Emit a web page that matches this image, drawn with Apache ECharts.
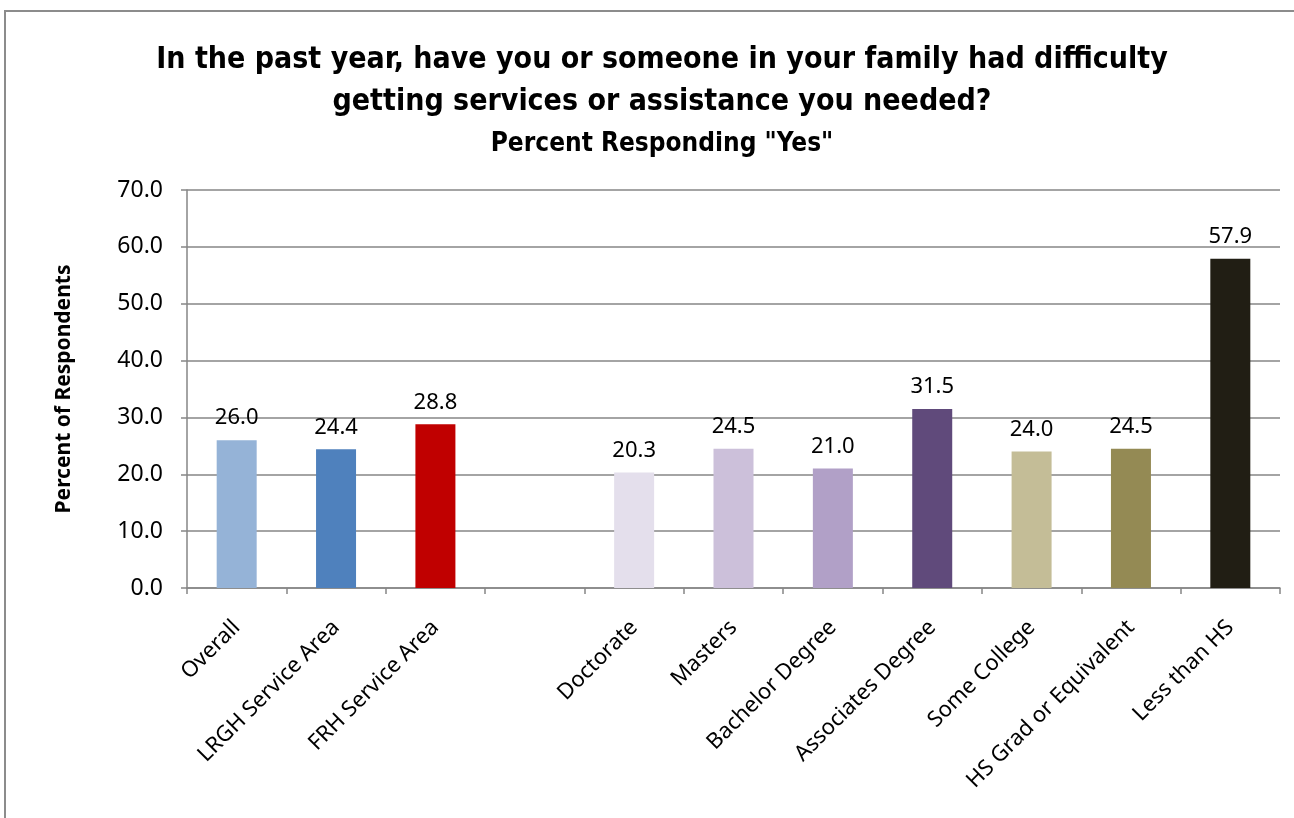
<!DOCTYPE html>
<html>
<head>
<meta charset="utf-8">
<script src="https://cdn.jsdelivr.net/npm/echarts@6.0.0/dist/echarts.min.js"></script>
<style>
  html, body { margin: 0; padding: 0; background: #fff; overflow: hidden; }
  #frame {
    position: absolute; left: 4px; top: 10px;
    width: 1400px; height: 900px;
    border-left: 2px solid #8c8c8c; border-top: 2px solid #8c8c8c;
  }
  /* 30px wider than the window so the centred title sits a little right, like the original */
  #chart { position: absolute; left: 0; top: 0; width: 1324px; height: 818px; }
</style>
</head>
<body>
<div id="frame"></div>
<div id="chart"></div>
<script>
// categories (the blank one is the gap between the service areas and education levels)
const categories = [
  'Overall', 'LRGH Service Area', 'FRH Service Area', '',
  'Doctorate', 'Masters', 'Bachelor Degree', 'Associates Degree',
  'Some College', 'HS Grad or Equivalent', 'Less than HS'
];
const percentYes = [26.0, 24.4, 28.8, null, 20.3, 24.5, 21.0, 31.5, 24.0, 24.5, 57.9];
const barColors = [
  '#95B3D7', '#4F81BD', '#C00000', '#ffffff',
  '#E4DFEC', '#CCC0DA', '#B1A0C7', '#604A7B',
  '#C4BD97', '#948A54', '#211E14'
];
const yTicks = { min: 0, max: 70, interval: 10 };

const labelFont = '"Noto Sans", "Open Sans", sans-serif';
const titleFont = '"Liberation Sans Narrow", "DejaVu Sans Condensed", sans-serif';

const chart = echarts.init(document.getElementById('chart'));
chart.setOption({
  animation: false,
  title: {
    text: 'In the past year, have you or someone in your family had difficulty\ngetting services or assistance you needed?',
    subtext: 'Percent Responding "Yes"',
    left: 'center',
    top: 34,
    itemGap: 8,
    textStyle: {
      fontFamily: titleFont,
      fontWeight: 'bold',
      fontSize: 30,
      lineHeight: 42,
      color: '#000'
    },
    subtextStyle: {
      fontFamily: titleFont,
      fontWeight: 'bold',
      fontSize: 26,
      color: '#000'
    }
  },
  grid: { left: 187, right: 44, top: 190, bottom: 230 },
  xAxis: {
    type: 'category',
    data: categories,
    axisLine: { lineStyle: { color: '#868686', width: 1.5 } },
    axisTick: { show: true, length: 6, lineStyle: { color: '#868686', width: 1.5 } },
    axisLabel: {
      rotate: 45,
      interval: 0,
      margin: 36,
      fontFamily: labelFont,
      fontSize: 22,
      color: '#000'
    }
  },
  yAxis: {
    type: 'value',
    min: yTicks.min,
    max: yTicks.max,
    interval: yTicks.interval,
    name: 'Percent of Respondents',
    nameLocation: 'middle',
    nameGap: 112,
    nameTextStyle: {
      fontFamily: labelFont,
      fontWeight: 'bold',
      fontSize: 21,
      color: '#000'
    },
    axisLine: { show: true, lineStyle: { color: '#868686', width: 1.5 } },
    axisTick: { show: true, length: 6, lineStyle: { color: '#868686', width: 1.5 } },
    splitLine: { lineStyle: { color: '#868686', width: 1.5 } },
    axisLabel: {
      formatter: (v) => v.toFixed(1),
      margin: 24,
      fontFamily: labelFont,
      fontSize: 23,
      color: '#000'
    }
  },
  series: [{
    type: 'bar',
    barWidth: 40,
    data: percentYes.map((v, i) => ({ value: v, itemStyle: { color: barColors[i] } })),
    label: {
      show: true,
      position: 'top',
      distance: 11,
      formatter: (p) => (p.value == null ? '' : p.value.toFixed(1)),
      fontFamily: labelFont,
      fontSize: 22,
      color: '#000'
    }
  }]
});
</script>
</body>
</html>
